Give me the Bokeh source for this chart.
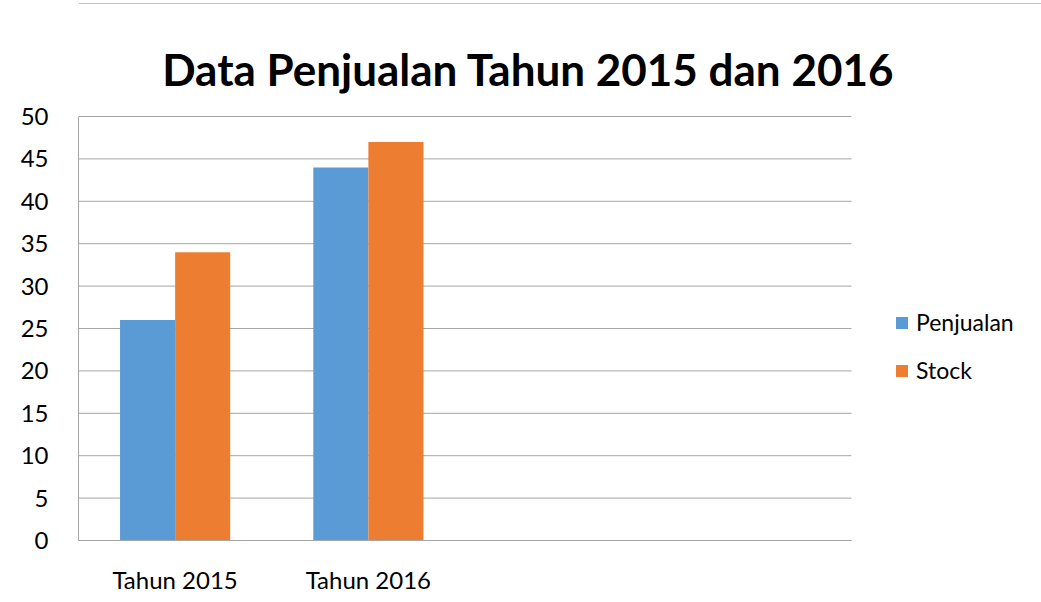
from bokeh.plotting import figure
from bokeh.models import (Range1d, FixedTicker, Legend, LegendItem, ColumnDataSource,
                          Label, Span)
from bokeh.embed import file_html
from bokeh.resources import INLINE

# ---- data ----
categories = ["Tahun 2015", "Tahun 2016", "", ""]
series_names = ["Penjualan", "Stock"]
penjualan = [26, 44]
stock = [34, 47]
y_ticks = [0, 5, 10, 15, 20, 25, 30, 35, 40, 45, 50]
title_text = "Data Penjualan Tahun 2015 dan 2016"

BLUE = "#5B9BD5"
ORANGE = "#ED7D31"
GRID = "#A6A6A6"
BORDER = "#8C8C8C"
FONT = "Lato"

W, H = 1041, 602
LEFT, TOP, BOTTOM = 78, 3, 62
PLOT_RIGHT_PX = 851          # where the value axis area ends
Y_TOP_PX = 116               # pixel row of the highest tick
n_cat = len(categories)
y_max_tick = y_ticks[-1]

# ranges so the data area occupies the same place as the reference
px_per_cat = (PLOT_RIGHT_PX - LEFT) / n_cat
x_end = (W - LEFT) / px_per_cat
px_per_unit = (H - BOTTOM - Y_TOP_PX) / y_max_tick
y_end = (H - BOTTOM - TOP) / px_per_unit

bar_w = 0.285
idx = list(range(len(penjualan)))
src_p = ColumnDataSource(dict(x=[i + 0.5 - bar_w / 2 for i in idx], top=penjualan))
src_s = ColumnDataSource(dict(x=[i + 0.5 + bar_w / 2 for i in idx], top=stock))

p = figure(width=W, height=H, output_backend="svg", toolbar_location=None,
           x_range=Range1d(0, x_end), y_range=Range1d(0, y_end),
           min_border_left=LEFT, min_border_right=0, min_border_top=TOP,
           min_border_bottom=BOTTOM)
p.title = None

# horizontal gridlines limited to the category area
p.segment(x0=[0] * len(y_ticks), x1=[n_cat] * len(y_ticks), y0=y_ticks, y1=y_ticks,
          line_color=GRID, line_width=1)

r1 = p.vbar(x="x", top="top", width=bar_w, bottom=0, source=src_p,
            fill_color=BLUE, line_color=None)
r2 = p.vbar(x="x", top="top", width=bar_w, bottom=0, source=src_s,
            fill_color=ORANGE, line_color=None)

# axes
p.xaxis.ticker = FixedTicker(ticks=[i + 0.5 for i in range(n_cat)])
p.xaxis.major_label_overrides = {i + 0.5: c for i, c in enumerate(categories)}
p.xaxis.bounds = (0, n_cat)
p.yaxis.ticker = FixedTicker(ticks=y_ticks)
p.yaxis.bounds = (0, y_max_tick)
for ax in (p.xaxis, p.yaxis):
    ax.axis_line_color = GRID
    ax.axis_line_width = 1
    ax.major_tick_line_color = None
    ax.minor_tick_line_color = None
    ax.major_label_text_font = FONT
    ax.major_label_text_font_size = "24px"
    ax.major_label_text_color = "#000000"
p.yaxis.major_label_standoff = 24
p.xaxis.major_label_standoff = 18

p.xgrid.grid_line_color = None
p.ygrid.grid_line_color = None
p.outline_line_color = None
p.background_fill_color = "white"
p.border_fill_color = "white"

# chart border (top edge)
p.add_layout(Span(location=y_end, dimension="width", line_color=BORDER, line_width=1))

# title
title = Label(x=450, y=472, x_units="screen", y_units="screen", text=title_text,
              text_align="center", text_baseline="alphabetic",
              text_font=FONT, text_font_size="44px", text_font_style="bold",
              text_color="#000000")
p.add_layout(title)

# legend
legend = Legend(items=[LegendItem(label=series_names[0], renderers=[r1]),
                       LegendItem(label=series_names[1], renderers=[r2])],
                location=(816, 156), orientation="vertical",
                glyph_width=15, glyph_height=15, label_standoff=7,
                label_text_font=FONT, label_text_font_size="23px",
                label_text_color="#000000",
                spacing=20, padding=0, margin=0,
                border_line_color=None, background_fill_color=None)
p.add_layout(legend)

open("out.html", "w").write(file_html(p, INLINE))
